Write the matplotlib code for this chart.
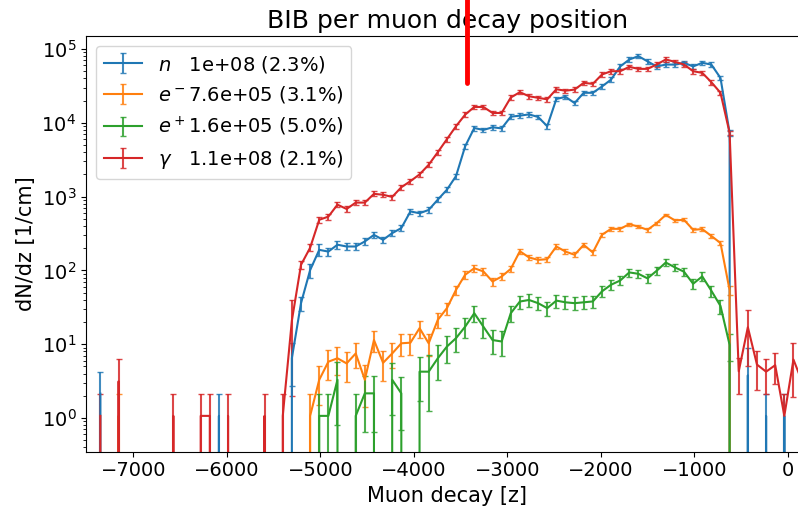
import numpy as np
import matplotlib
matplotlib.use("Agg")
import matplotlib.pyplot as plt

# 80 bins in z between -7400 and 400
edges = np.linspace(-7400, 400, 81)
z = 0.5 * (edges[1:] + edges[:-1])

n_vals = [2.14, 0, 0, 0, 0, 0, 0, 0, 0, 0,
          0, 0, 0, 1.07, 0, 0, 0, 0, 0, 0,
          0, 6.5, 36, 101, 190, 180, 223, 211, 211, 247,
          303, 260, 320, 375, 630, 595, 660, 910, 1240, 1900,
          4800, 8500, 8000, 8700, 8400, 12100, 12500, 13000, 12000, 9000,
          21000, 22500, 18500, 25500, 25500, 31000, 38500, 58000, 72000, 80000,
          68000, 58000, 61500, 61500, 65000, 58000, 65000, 61500, 40500, 7300,
          0, 3.8, 0, 1.07, 0, 1.07, 0, 0, 0, 0]
n_errs = [2.1, 0, 0, 0, 0, 0, 0, 0, 0, 0,
          0, 0, 0, 1.07, 0, 0, 0, 0, 0, 0,
          0, 3.8, 8, 22, 35, 22, 25, 22, 22, 25,
          30, 26, 30, 34, 55, 50, 55, 75, 100, 150,
          380, 650, 600, 650, 620, 900, 900, 950, 880, 700,
          1500, 1600, 1300, 1800, 1800, 2200, 2700, 4000, 5000, 5500,
          4800, 4100, 4300, 4300, 4500, 4100, 4500, 4300, 2900, 600,
          0, 5, 0, 1.07, 0, 1.07, 0, 0, 0, 0]

em_vals = [0, 0, 1.07, 0, 0, 0, 0, 0, 0, 0,
           0, 0, 0, 0, 0, 0, 0, 0, 0, 0,
           0, 0, 0, 1.07, 3.3, 5.8, 6.45, 5.5, 7.5, 3.3,
           11.4, 5.6, 7.5, 10.3, 10.5, 16.5, 10.3, 21.4, 30.8, 54.6,
           87.4, 107, 97, 70.8, 82.6, 105, 182, 150, 139, 142,
           211, 180, 163, 222, 175, 304, 366, 366, 423, 392,
           355, 437, 565, 476, 485, 355, 363, 293, 235, 54,
           0, 0, 0, 0, 0, 0, 0, 0, 0, 0]
em_errs = [0, 0, 1.07, 0, 0, 0, 0, 0, 0, 0,
           0, 0, 0, 0, 0, 0, 0, 0, 0, 0,
           0, 0, 0, 1.07, 1.8, 2.5, 2.6, 2.4, 2.8, 1.9,
           3.5, 2.4, 2.8, 3.3, 3.4, 4.2, 3.3, 4.8, 5.7, 7.6,
           9.7, 10.7, 10.2, 8.7, 9.4, 10.6, 14, 12.7, 12.2, 12.3,
           15, 13.9, 13.2, 15.4, 13.7, 18, 19.8, 19.8, 21.3, 20.5,
           19.5, 21.6, 24.6, 22.6, 22.8, 19.5, 19.7, 17.7, 15.9, 7.6,
           0, 0, 0, 0, 0, 0, 0, 0, 0, 0]

ep_vals = [0, 0, 0, 0, 0, 0, 0, 0, 0, 0,
           0, 0, 0, 0, 0, 0, 0, 0, 0, 0,
           0, 0, 0, 0, 1.07, 1.07, 3.3, 0, 1.07, 2.16,
           2.16, 0, 3.3, 2.16, 0, 4.25, 4.25, 6.45, 9.3, 12.1,
           17.3, 26.3, 17.3, 11.4, 10.9, 26.3, 37.9, 39.8, 36, 30.8,
           39, 37, 36, 37, 38, 52, 64, 73, 94, 90,
           78, 99, 128, 110, 96, 66, 83, 53, 33, 9.8,
           0, 0, 0, 0, 0, 0, 0, 0, 0, 0]
ep_errs = [0, 0, 0, 0, 0, 0, 0, 0, 0, 0,
           0, 0, 0, 0, 0, 0, 0, 0, 0, 0,
           0, 0, 0, 0, 1.07, 1.07, 2.5, 0, 1.07, 1.51,
           1.51, 0, 2.2, 1.47, 0, 2.55, 3.0, 3.2, 3.7, 4.3,
           5.1, 6.3, 5.1, 4.1, 4.0, 6.3, 7.5, 7.7, 7.3, 6.8,
           7.6, 7.4, 7.3, 7.4, 7.5, 8.8, 9.8, 10.5, 11.9, 11.6,
           10.8, 12.2, 13.9, 12.8, 12.0, 9.9, 11.2, 8.9, 7.0, 3.8,
           0, 0, 0, 0, 0, 0, 0, 0, 0, 0]

g_vals = [1.07, 0, 3.15, 0, 0, 0, 0, 0, 1.07, 0,
          0, 1.07, 1.07, 0, 1.07, 0, 0, 0, 1.07, 0,
          1.07, 21, 119, 203, 485, 536, 778, 680, 830, 830,
          1090, 1060, 990, 1340, 1620, 2000, 2700, 4000, 6000, 9000,
          12900, 16400, 16400, 13600, 13600, 22000, 26000, 22900, 21800, 20800,
          28500, 27200, 28200, 34800, 33700, 45100, 50000, 50000, 57300, 53800,
          53800, 61600, 72100, 67000, 61600, 50000, 47500, 35500, 25500, 7300,
          4.3, 17, 5.3, 4.25, 5.2, 1.07, 6.2, 3.0, 4.0, 2.0]
g_errs = [1.07, 0, 3.15, 0, 0, 0, 0, 0, 1.07, 0,
          0, 1.07, 1.07, 0, 1.07, 0, 0, 0, 1.07, 0,
          1.07, 19, 14, 22, 45, 48, 65, 58, 70, 70,
          85, 82, 78, 100, 120, 150, 200, 290, 420, 630,
          900, 1150, 1150, 950, 950, 1500, 1800, 1600, 1500, 1450,
          2000, 1900, 2000, 2400, 2400, 3200, 3500, 3500, 4000, 3800,
          3800, 4300, 5000, 4700, 4300, 3500, 3300, 2500, 1800, 550,
          2.15, 12, 2.9, 2.15, 2.3, 1.07, 4.3, 2.5, 2.8, 2.0]

labels = [r"$n$   1e+08 (2.3%)",
          r"$e^-$7.6e+05 (3.1%)",
          r"$e^+$1.6e+05 (5.0%)",
          r"$\gamma$   1.1e+08 (2.1%)"]
colors = ["#1f77b4", "#ff7f0e", "#2ca02c", "#d62728"]
series = [(n_vals, n_errs), (em_vals, em_errs), (ep_vals, ep_errs), (g_vals, g_errs)]

fig = plt.figure(figsize=(7.98, 5.08), dpi=100)
ax = fig.add_axes([86 / 798, 56.3 / 508, (809 - 86) / 798, 415.7 / 508])
ax.set_yscale("log")

for (vals, errs), lab, col in zip(series, labels, colors):
    cont = ax.errorbar(z, np.array(vals, float), yerr=np.array(errs, float),
                       color=col, lw=1.5, elinewidth=1.5, capsize=2, label=lab)
    for cap in cont[1]:
        cap.set_alpha(0.85)
    for bar in cont[2]:
        bar.set_alpha(0.85)

ax.set_xlim(-7505, 225)
ax.set_ylim(0.35, 1.5e5)
ax.set_xticks([-7000, -6000, -5000, -4000, -3000, -2000, -1000, 0])
ax.tick_params(labelsize=14)

ax.set_title("BIB per muon decay position", fontsize=18)
ax.set_xlabel("Muon decay [z]", fontsize=15)
ax.set_ylabel("dN/dz [1/cm]", fontsize=15)
ax.legend(loc="upper left", fontsize=14)

ax.plot([-3430, -3430], [3.5e4, 1e7], color="red", lw=3.5,
        solid_capstyle="round", clip_on=False, zorder=5)

fig.savefig("out.png", dpi=100)
